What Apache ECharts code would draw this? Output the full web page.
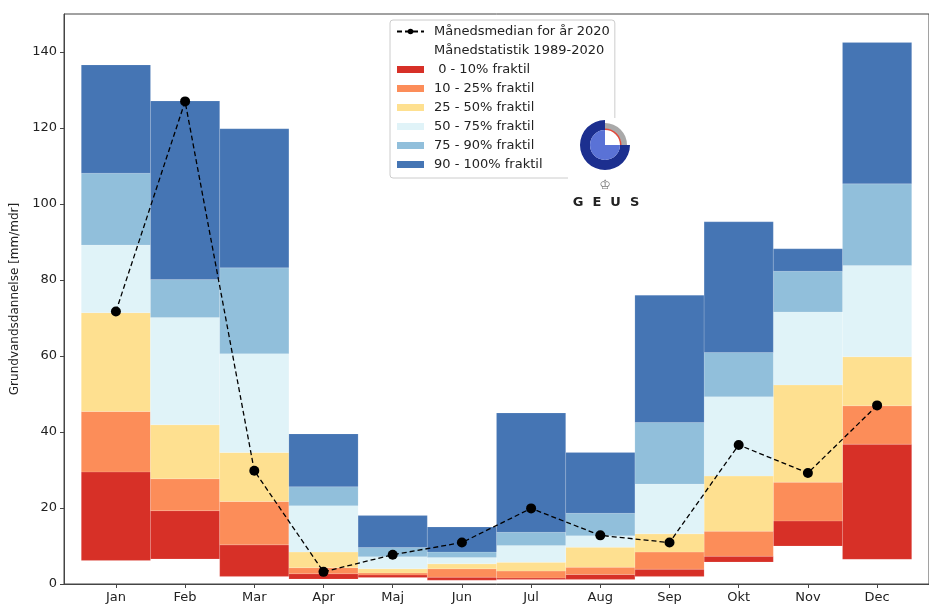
<!DOCTYPE html>
<html>
<head>
<meta charset="utf-8">
<script src="https://cdn.jsdelivr.net/npm/echarts@6/dist/echarts.min.js"></script>
<style>html,body{margin:0;padding:0;background:#fff;}#c{width:929px;height:605px;}</style>
</head>
<body>
<div id="c"></div>
<script>
const months = ['Jan','Feb','Mar','Apr','Maj','Jun','Jul','Aug','Sep','Okt','Nov','Dec'];
const yTicks = [0,20,40,60,80,100,120,140];
// Percentile boundaries per month (1989-2020)
const pMin = [6.2, 6.6, 2.0, 1.3, 1.7, 1.0, 1.2, 1.2, 2.0, 5.8, 10.0, 6.5];
const p10  = [29.5, 19.3, 10.3, 2.7, 2.4, 1.8, 1.6, 2.5, 3.9, 7.3, 16.6, 36.8];
const p25  = [45.4, 27.7, 21.7, 4.3, 2.9, 4.0, 3.4, 4.4, 8.4, 13.9, 26.8, 46.9];
const p50  = [71.4, 41.9, 34.6, 8.4, 4.0, 5.3, 5.7, 9.7, 13.2, 28.4, 52.4, 59.8];
const p75  = [89.2, 70.1, 60.6, 20.6, 7.2, 7.0, 10.1, 12.7, 26.3, 49.3, 71.6, 83.8];
const p90  = [108.1, 80.1, 83.2, 25.6, 9.6, 8.4, 13.6, 18.6, 42.5, 60.9, 82.3, 105.3];
const pMax = [136.6, 127.1, 119.8, 39.5, 18.0, 15.0, 45.0, 34.6, 76.0, 95.3, 88.2, 142.5];
// Monthly median for 2020
const median2020 = [71.7, 127.0, 29.8, 3.2, 7.7, 10.9, 19.9, 12.8, 10.9, 36.6, 29.2, 47.0];

const bandNames = [' 0 - 10% fraktil','10 - 25% fraktil','25 - 50% fraktil','50 - 75% fraktil','75 - 90% fraktil','90 - 100% fraktil'];
const bandColors = ['#d73027','#fc8d59','#fee090','#e0f3f8','#91bfdb','#4575b4'];
const bounds = [pMin, p10, p25, p50, p75, p90, pMax];

const renderBand = function (params, api) {
  const x = api.value(0);
  const lo = api.value(1), hi = api.value(2);
  const a = api.coord([x - 0.5, hi]);
  const b = api.coord([x + 0.5, lo]);
  return {
    type: 'rect',
    shape: { x: a[0], y: a[1], width: b[0] - a[0], height: b[1] - a[1] },
    style: { fill: api.visual('color'), stroke: 'rgba(255,255,255,0.25)', lineWidth: 0.5 }
  };
};

const series = bandNames.map((name, i) => ({
  name: name,
  type: 'custom',
  renderItem: renderBand,
  itemStyle: { color: bandColors[i] },
  encode: { x: 0, y: [1, 2] },
  data: months.map((m, k) => [k + 1, bounds[i][k], bounds[i + 1][k]]),
  z: 2
}));

series.unshift({
  name: 'Månedstatistik 1989-2020',
  type: 'custom',
  renderItem: function () { return null; },
  itemStyle: { color: 'rgba(0,0,0,0)' },
  data: []
});

series.unshift({
  name: 'Månedsmedian for år 2020',
  type: 'line',
  data: median2020.map((v, k) => [k + 1, v]),
  symbol: 'circle',
  symbolSize: 10,
  itemStyle: { color: '#000' },
  lineStyle: { color: '#000', width: 1.3, type: [5, 3] },
  z: 10
});

const chart = echarts.init(document.getElementById('c'), null, { renderer: 'canvas' });
chart.setOption({
  animation: false,
  textStyle: { fontFamily: 'DejaVu Sans' },
  grid: { left: 64, top: 14, width: 876.5, height: 570, show: true, borderColor: '#444', borderWidth: 1, backgroundColor: 'transparent' },
  xAxis: {
    type: 'value', min: 0.25, max: 12.75,
    axisLine: { show: true, lineStyle: { color: '#444', width: 1 } },
    axisTick: { show: true, length: 4, lineStyle: { color: '#444' }, customValues: months.map((m, k) => k + 1) },
    axisLabel: { color: '#222', fontSize: 13, margin: 7, customValues: months.map((m, k) => k + 1), formatter: v => months[Math.round(v) - 1] || '' },
    splitLine: { show: false }
  },
  yAxis: {
    type: 'value', min: 0, max: 150,
    name: 'Grundvandsdannelse [mm/mdr]', nameLocation: 'middle', nameGap: 40,
    nameTextStyle: { color: '#222', fontSize: 12 },
    axisLine: { show: true, lineStyle: { color: '#444', width: 1 } },
    axisTick: { show: true, length: 4, lineStyle: { color: '#444' }, customValues: yTicks },
    axisLabel: { color: '#222', fontSize: 13, margin: 7, customValues: yTicks },
    splitLine: { show: false }
  },
  legend: {
    orient: 'vertical', left: 390, top: 20,
    backgroundColor: '#fff', borderColor: '#ccc', borderWidth: 1, borderRadius: 3,
    padding: [5, 5, 7, 6],
    itemWidth: 27, itemHeight: 7, itemGap: 6,
    selectedMode: false,
    textStyle: { fontSize: 13, color: '#222', fontFamily: 'DejaVu Sans', padding: [0, 0, 0, 5] },
    data: [
      { name: 'Månedsmedian for år 2020' },
      { name: 'Månedstatistik 1989-2020', icon: 'rect', itemStyle: { color: 'rgba(0,0,0,0)', borderWidth: 0 } },
      ...bandNames.map(n => ({ name: n, icon: 'rect' }))
    ]
  },
  graphic: [
    { type: 'rect', shape: { x: 568, y: 118, width: 78, height: 97 }, style: { fill: '#fff' }, z: 100 },
    { type: 'sector', shape: { cx: 605, cy: 145, r: 25, r0: 15, startAngle: 0, endAngle: Math.PI * 1.5, clockwise: true }, style: { fill: '#1c2f8f' }, z: 101 },
    { type: 'sector', shape: { cx: 605, cy: 145, r: 15, r0: 0, startAngle: 0, endAngle: Math.PI * 1.5, clockwise: true }, style: { fill: '#5a72d6' }, z: 101 },
    { type: 'sector', shape: { cx: 605, cy: 145, r: 22, r0: 16, startAngle: -Math.PI / 2, endAngle: 0, clockwise: true }, style: { fill: '#a9a9a9' }, z: 101 },
    { type: 'sector', shape: { cx: 605, cy: 145, r: 16.5, r0: 15, startAngle: -Math.PI / 2, endAngle: 0, clockwise: true }, style: { fill: '#e04a3c' }, z: 101 },
    { type: 'text', x: 605, y: 186, style: { text: '♔', fill: '#777', fontSize: 13, align: 'center', verticalAlign: 'middle', fontFamily: 'DejaVu Sans' }, z: 101 },
    { type: 'text', x: 606, y: 203, style: { text: 'G  E  U  S', fill: '#222', fontSize: 13, fontWeight: 'bold', align: 'center', verticalAlign: 'middle', fontFamily: 'DejaVu Sans' }, z: 101 }
  ],
  series: series
});
</script>
</body>
</html>
